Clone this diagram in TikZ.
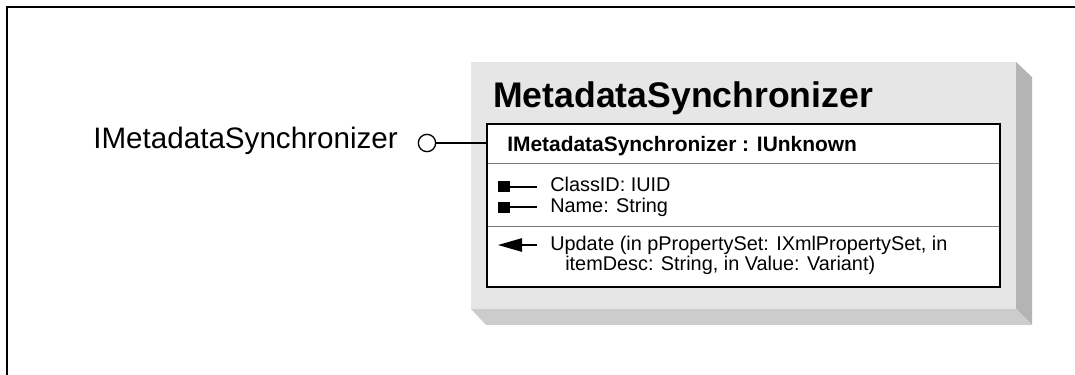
\documentclass[tikz,border=0pt]{standalone}
\usepackage{fontspec}
\setmainfont{Liberation Sans}
\usepackage{tikz}
\usetikzlibrary{calc}
\usetikzlibrary{arrows.meta}
\definecolor{boxgray}{RGB}{230,230,230}
\definecolor{sidegray}{RGB}{180,180,180}
\definecolor{basegray}{RGB}{204,204,204}
\definecolor{rulegray}{RGB}{120,120,120}
\tikzset{
  member/.style={anchor=base west,inner sep=0pt,font=\fontsize{14.9}{16}\selectfont},
  pin/.style={line width=1.2pt},
}

\begin{document}
\begin{tikzpicture}[x=0.75pt,y=-0.75pt]
\useasboundingbox (0,0) rectangle (1075,375);
\draw[line width=1.5pt] (7,375) -- (7,7) -- (1075,7);
% block with its shadow
\fill[sidegray] (1016,62) -- (1032,77) -- (1032,325) -- (1016,309) -- cycle;
\fill[basegray] (471,309) -- (1016,309) -- (1032,325) -- (486,325) -- cycle;
\fill[boxgray] (471,62) rectangle (1016,309);
\node[anchor=base west,inner sep=0pt,font=\fontsize{26.7}{30}\selectfont\bfseries] (title) at (493,107) {MetadataSynchronizer};
\coordinate (boxnw) at (487,124);
\coordinate (boxse) at (1000,287);
\fill[white] (boxnw) rectangle (boxse);
\draw[rulegray,line width=0.6pt] (487,163) -- (1000,163);
\draw[rulegray,line width=0.6pt] (487,226) -- (1000,226);
\draw[line width=1.3pt] (boxnw) rectangle (boxse);
\node[member,font=\fontsize{15.7}{18}\selectfont\bfseries] (iface) at (507,151) {IMetadataSynchronizer : IUnknown};
% properties
\node[member] (classid) at (550,191) {ClassID: IUID};
\node[member] (name) at (550,212) {Name: String};
\fill (498,181) rectangle (510,192);
\draw[pin] (510,187) -- (537,187);
\fill (498,202) rectangle (510,213);
\draw[pin] (510,207) -- (537,207);
% method
\node[member] (update) at (550,250) {Update (in pPropertySet: IXmlPropertySet, in};
\node[member] (update2) at (565,270) {itemDesc: String, in Value: Variant)};
\draw[pin,-{Triangle[length=18pt,width=10pt]}] (537,245) -- (498,245);
% interface
\node[anchor=base east,inner sep=0pt,font=\fontsize{22.2}{26}\selectfont] (label) at (398,148) {IMetadataSynchronizer};
\node[draw,circle,line width=1pt,minimum size=13pt,inner sep=0pt] (lollipop) at (427,143) {};
\draw[line width=1pt] (lollipop) -- (boxnw |- lollipop);
\end{tikzpicture}
\end{document}
